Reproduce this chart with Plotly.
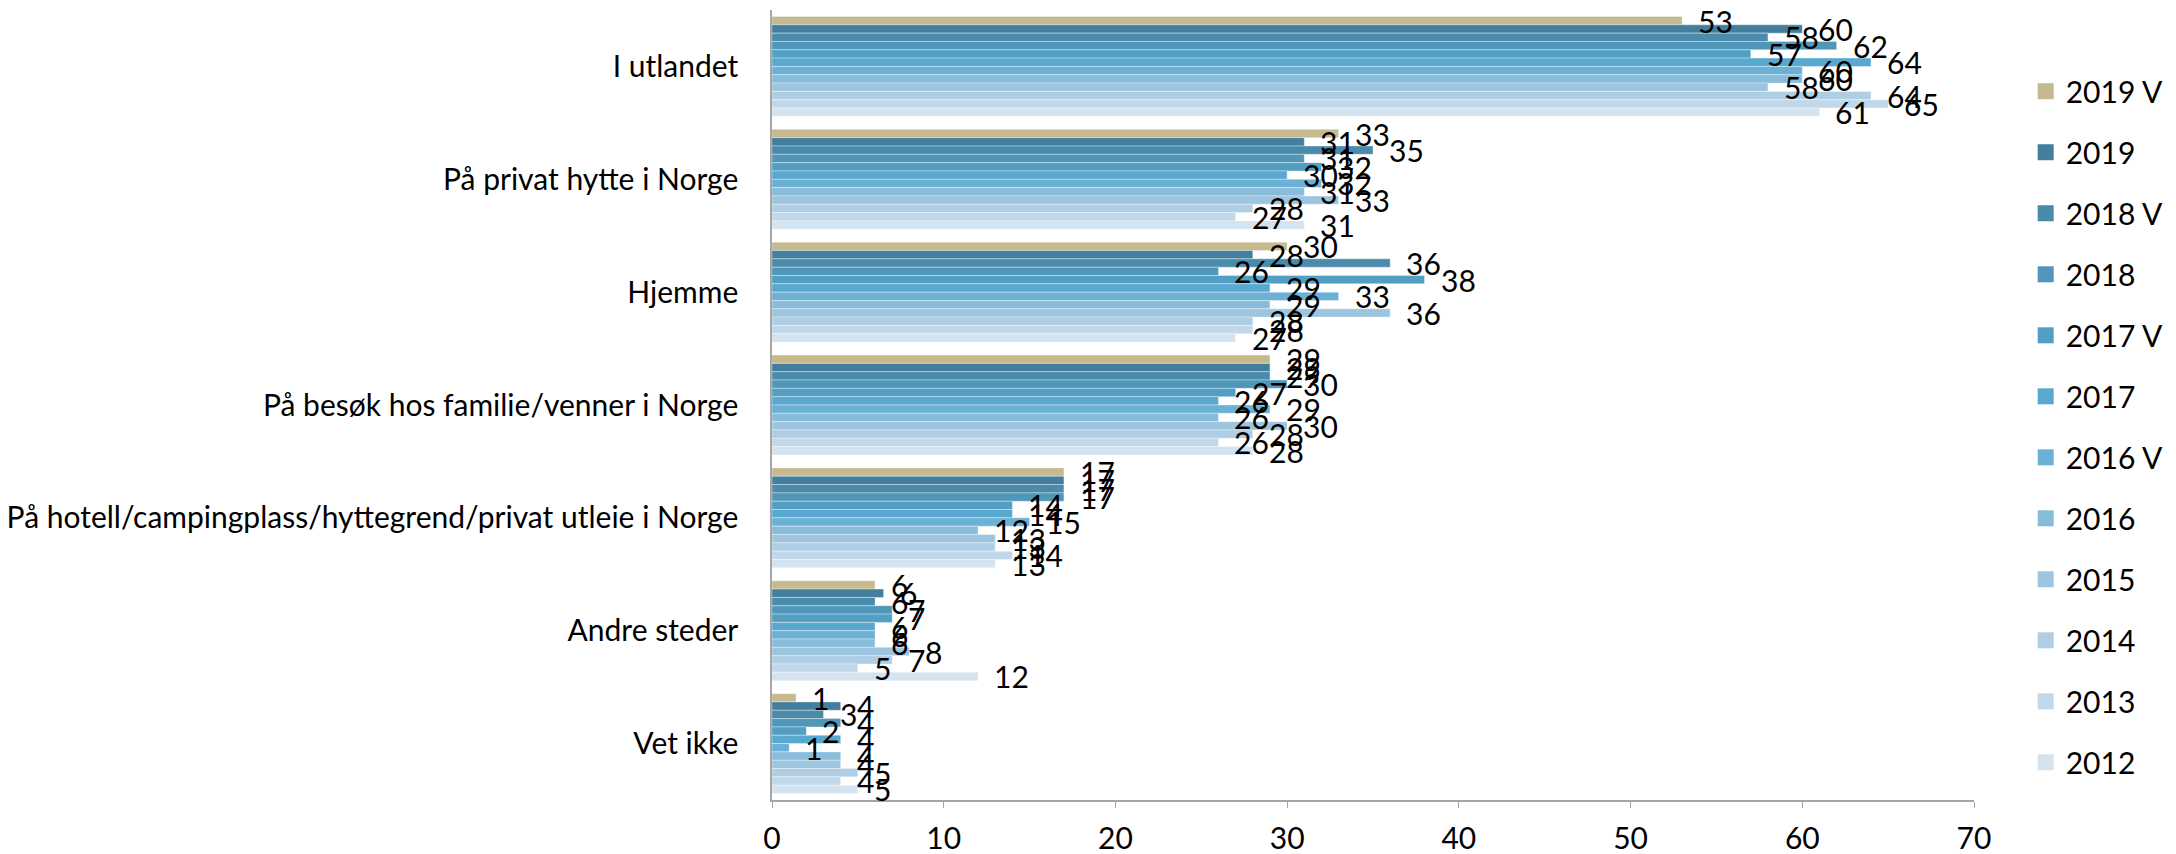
import plotly.graph_objects as go

categories = [
    "I utlandet",
    "På privat hytte i Norge",
    "Hjemme",
    "På besøk hos familie/venner i Norge",
    "På hotell/campingplass/hyttegrend/privat utleie i Norge",
    "Andre steder",
    "Vet ikke",
]

series_names = ["2019 V", "2019", "2018 V", "2018", "2017 V", "2017",
                "2016 V", "2016", "2015", "2014", "2013", "2012"]

v2019V = [53, 33, 30, 29, 17, 6, 1.4]
v2019 = [60, 31, 28, 29, 17, 6.5, 4]
v2018V = [58, 35, 36, 29, 17, 6, 3]
v2018 = [62, 31, 26, 30, 17, 7, 4]
v2017V = [57, 32, 38, 27, 14, 7, 2]
v2017 = [64, 30, 29, 26, 14, 6, 4]
v2016V = [60, 32, 33, 29, 15, 6, 1]
v2016 = [60, 31, 29, 26, 12, 6, 4]
v2015 = [58, 33, 36, 30, 13, 8, 4]
v2014 = [64, 28, 28, 28, 13, 7, 5]
v2013 = [65, 27, 28, 26, 14, 5, 4]
v2012 = [61, 31, 27, 28, 13, 12, 5]

series_values = [v2019V, v2019, v2018V, v2018, v2017V, v2017,
                 v2016V, v2016, v2015, v2014, v2013, v2012]

colors = ["#C6B98E", "#437F9C", "#4A8AAB", "#4F96B8", "#529FC3", "#59A8CF",
          "#6BB1D5", "#89BCDB", "#9DC5DF", "#AFCEE4", "#C1D8EA", "#D3E3EF"]

x_ticks = [0, 10, 20, 30, 40, 50, 60, 70]

FONT = "Lato"
FS = 30
BARGAP = 0.115

fig = go.Figure()
n = len(series_names)
for i, (name, vals, col) in enumerate(zip(series_names, series_values, colors)):
    fig.add_trace(go.Bar(
        y=categories, x=vals, name=name, orientation="h",
        marker=dict(color=col, line=dict(color="rgba(255,255,255,0.35)", width=1)),
        showlegend=False,
    ))

# legend-only entries with larger square swatches
for name, col in zip(series_names, colors):
    fig.add_trace(go.Scatter(
        x=[None], y=[None], mode="markers", name=name, legendgroup=name,
        marker=dict(symbol="square", size=16, color=col),
        showlegend=True, hoverinfo="skip",
    ))

annotations = []
bw = (1 - BARGAP) / n
for i, vals in enumerate(series_values):
    off = -(1 - BARGAP) / 2 + (i + 0.5) * bw
    for k, v in enumerate(vals):
        annotations.append(dict(
            x=v, y=k + off, xref="x", yref="y", text=str(int(round(v))),
            showarrow=False, xanchor="left", yanchor="middle", xshift=14,
            font=dict(family=FONT, size=FS, color="#000000"),
        ))

# page body has an 8px default margin, so the figure is 8px smaller
fig.update_layout(
    width=2168, height=846,
    margin=dict(l=764, r=202, t=2, b=54, autoexpand=False),
    barmode="group", bargap=BARGAP, bargroupgap=0,
    plot_bgcolor="white", paper_bgcolor="white",
    font=dict(family=FONT, size=FS, color="#000000"),
    showlegend=True,
    legend=dict(x=1.043, y=0.93, xanchor="left", yanchor="top",
                font=dict(family=FONT, size=FS), tracegroupgap=19,
                itemsizing="trace", bgcolor="rgba(0,0,0,0)"),
    annotations=annotations,
)
fig.update_xaxes(range=[0, 70], tickvals=x_ticks, ticktext=[str(t) for t in x_ticks],
                 showgrid=False, zeroline=False, showline=True, linecolor="#A6A6A6",
                 linewidth=1.5, ticks="outside", ticklen=6, tickcolor="#A6A6A6",
                 ticklabelstandoff=5, tickfont=dict(family=FONT, size=FS))
fig.update_yaxes(range=[len(categories) - 0.5, -0.5], autorange=False,
                 showgrid=False, showline=True,
                 linecolor="#A6A6A6", linewidth=1.5, ticks="", ticklabelstandoff=26,
                 tickfont=dict(family=FONT, size=FS))

fig.write_html("out.html")
